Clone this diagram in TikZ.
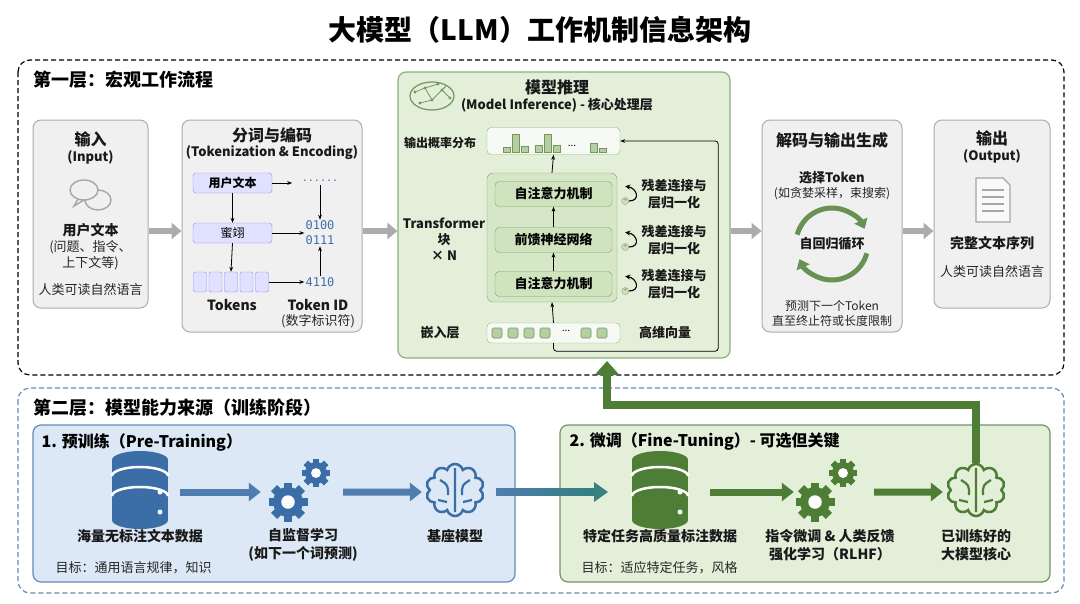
\documentclass[tikz,border=0pt]{standalone}
\usepackage{fontspec}
\setmainfont{Noto Sans CJK SC}
\newfontfamily\mono{DejaVu Sans Mono}
\usetikzlibrary{arrows.meta,shapes.symbols,calc}
\definecolor{gbord}{HTML}{8AB27A}
\definecolor{gfill}{HTML}{E4EFDA}
\definecolor{gin}{HTML}{CFE3BE}
\definecolor{gdark}{HTML}{4E7D35}
\definecolor{bdark}{HTML}{3B6EA6}
\definecolor{bfill}{HTML}{DCE8F5}
\definecolor{tokblue}{HTML}{3D6FB0}
\newcommand{\fs}[1]{\fontsize{#1}{\fpeval{#1*1.25}}\selectfont}
\newcommand{\gearicon}[4]{%
  \foreach \a in {0,45,...,315}{\fill[#4,rotate around={\a:(#1,#2)}] ($(#1,#2)+(-0.28*#3,-1.3*#3)$) rectangle ($(#1,#2)+(0.28*#3,1.3*#3)$);}
  \fill[#4] (#1,#2) circle (#3);
  \fill[white] (#1,#2) circle (0.45*#3);}
\newcommand{\dbicon}[3]{%
  \fill[#3] ($(#1,#2)+(-28,-30)$) rectangle ($(#1,#2)+(28,30)$);
  \fill[#3] ($(#1,#2)+(0,-30)$) ellipse (28 and 9);
  \fill[#3] ($(#1,#2)+(0,30)$) ellipse (28 and 9);
  \draw[white,line width=2.5pt] ($(#1,#2)+(-28,-14)$) arc[start angle=180,end angle=0,x radius=28,y radius=-9];
  \draw[white,line width=2.5pt] ($(#1,#2)+(-28,6)$) arc[start angle=180,end angle=0,x radius=28,y radius=-9];
  \fill[white] ($(#1,#2)+(20,2)$) circle (2.5) ($(#1,#2)+(20,22)$) circle (2.5);}
\tikzset{
  lbox/.style={rounded corners=8pt,draw=gray!65,fill=gray!12,line width=1pt},
  t/.style={font=\fs{12},text=black!85},
  tb/.style={font=\fs{13}\bfseries,text=black!90},
  big/.style={line width=6pt,draw=gray!65,-{Triangle[length=10pt,width=16pt]}},
  sa/.style={-{Stealth[length=5pt]},line width=0.8pt},
  ubox/.style={draw=blue!45,fill=blue!12,rounded corners=3pt,minimum width=79pt,minimum height=20pt,font=\fs{12}\bfseries},
  sq/.style={draw=blue!45,fill=blue!12,rounded corners=2pt,minimum width=13pt,minimum height=20pt},
  gbox/.style={draw=gbord!90!black,fill=gin,rounded corners=4pt,minimum width=117pt,minimum height=25pt,font=\fs{13}\bfseries},
  barsq/.style={draw=gdark!80,fill=gin!80!gdark,line width=0.6pt},
  icon/.style={minimum width=60pt,minimum height=70pt,inner sep=0pt},
  bar/.style={line width=7pt,-{Triangle[length=12pt,width=18pt]}},
}
\begin{document}
\begin{tikzpicture}[x=1pt,y=-1pt]
\useasboundingbox (0,0) rectangle (1080,603);
\fill[white] (0,0) rectangle (1080,603);
\node[font=\fs{28}\bfseries] (title) at (540,30) {大模型（LLM）工作机制信息架构};
% layer 1
\draw[dashed,line width=1.2pt,rounded corners=12pt,dash pattern=on 5pt off 3pt] (18,60) rectangle (1064,375);
\node[anchor=west,font=\fs{18}\bfseries] (l1) at (30,80) {第一层：宏观工作流程};
\coordinate (ya) at (0,231);
% input
\node[lbox,minimum width=115pt,minimum height=188pt] (inp) at (90.5,214) {};
\node[tb,font=\fs{16}\bfseries] (inpt) at (90.5,139) {输入};
\node[tb] (inpe) at (90.5,157) {(Input)};
\draw[gray!70,line width=1.4pt,fill=gray!12] (98,200) ellipse (13 and 10);
\draw[gray!70,line width=1.4pt,fill=gray!12] (84,190) ellipse (14 and 10);
\draw[gray!70,line width=1.4pt] (78,199) -- (74,206) -- (84,200);
\node[tb,font=\fs{14}\bfseries] (ut) at (90.5,230) {用户文本};
\node[t,align=center,font=\fs{13}] (uq) at (90.5,255) {(问题、指令、\\上下文等)};
\node[t,font=\fs{13}] (hr) at (90.5,290) {人类可读自然语言};
% tokenization
\node[lbox,minimum width=180pt,minimum height=212pt] (tok) at (272,226) {};
\node[tb,font=\fs{16}\bfseries] (tokt) at (272,135) {分词与编码};
\node[tb] (toke) at (272,153) {(Tokenization \& Encoding)};
\node[ubox] (u1) at (232.5,183) {用户文本};
\node[ubox,font=\fs{12}] (u2) at (232.5,233) {蜜翊};
\foreach \i/\x in {1/200,2/215.5,3/231,4/246.5,5/262}{\node[sq] (sq\i) at (\x,282) {};}
\node[font=\mono\fs{10},text=tokblue] (d1) at (320,181) {......};
\node[font=\mono\fs{12},text=tokblue,align=center,inner sep=1pt] (b1) at (320,233) {0100\\0111};
\node[font=\mono\fs{12},text=tokblue,inner sep=1pt] (id) at (320,282) {4110};
\draw[sa] (u1.east) -- ++(20,0);
\draw[sa] (u2.east) -- (b1.west);
\draw[sa] (sq5.east) -- (id.west);
\draw[sa] (u1.south) -- (u2.north);
\draw[sa] (u2.south) -- (sq3.north);
\draw[sa] (d1.south) -- (b1.north);
\draw[sa] (id.north) -- (b1.south);
\node[tb,font=\fs{14}\bfseries] (tkl) at (232,305) {Tokens};
\node[tb,font=\fs{14}\bfseries] (tid) at (318,305) {Token ID};
\node[t,font=\fs{13}] (tids) at (318,321) {(数字标识符)};
% inference
\node[rounded corners=8pt,draw=gbord,fill=gfill,line width=1.2pt,minimum width=332pt,minimum height=286pt] (inf) at (564,215) {};
\draw[gdark!80,line width=1.2pt] (432,96) ellipse (22 and 14);
\draw[gdark!80,line width=0.8pt] (415,92)--(425,88)--(432,100)--(442,90)--(450,98) (425,88)--(438,84) (432,100)--(420,103) (442,90)--(446,86);
\foreach \p in {(425,88),(432,100),(442,90),(438,84),(420,103),(450,98),(415,92)}{\fill[gdark!80] \p circle (1.6);}
\node[tb,font=\fs{16}\bfseries] (inft) at (557,87) {模型推理};
\node[tb] (infe) at (557,105) {(Model Inference) - 核心处理层};
\node[rounded corners=4pt,draw=gbord,fill=white!70!gfill,minimum width=133pt,minimum height=27pt] (prob) at (553.5,141) {};
\foreach \x/\h in {503/5,512/18,521/6,535/7,544/18,553/7,590/9,599/4}{\draw[barsq] (\x,152) rectangle ++(7,-\h);}
\node[font=\fs{10}] (pd) at (572,146) {...};
\node[tb,font=\fs{12}\bfseries] (pl) at (440,143) {输出概率分布};
\node[rounded corners=6pt,draw=gbord!90!black,fill=gin!70!gfill,minimum width=130pt,minimum height=129pt] (tblk) at (552,237.5) {};
\node[gbox] (a1) at (553.5,194) {自注意力机制};
\node[gbox] (ff) at (553.5,240) {前馈神经网络};
\node[gbox] (a2) at (553.5,284) {自注意力机制};
\node[tb,font=\fs{13}\bfseries,align=center] (tn) at (444,239) {Transformer\\块\\× N};
\node[rounded corners=4pt,draw=gbord,fill=white!70!gfill,minimum width=133pt,minimum height=20pt] (emb) at (553.5,333) {};
\foreach \x in {497,513,529,545,586,602}{\draw[barsq,rounded corners=1.5pt] (\x-5,328) rectangle (\x+5,338);}
\node[font=\fs{10}] (ed) at (566,331) {...};
\node[tb,font=\fs{13}\bfseries] (el) at (440,333) {嵌入层};
\node[tb,font=\fs{13}\bfseries] (ev) at (665,333) {高维向量};
\draw[sa] (emb.north) -- (tblk.south);
\draw[sa] (a2.north) -- (ff.south);
\draw[sa] (ff.north) -- (a1.south);
\draw[sa] (tblk.north) -- (prob.south);
\draw[sa,rounded corners=3pt] (emb.south) -- ++(0,8) -| ($(prob.east)+(98,0)$) -- (prob.east);
\foreach \b in {a1,ff,a2}{
  \node[circle,draw=gdark!70,fill=gin,inner sep=0pt,minimum size=7pt,font=\fs{6},text=gdark] (\b c) at ($(\b.east)+(13,7)$) {+};
  \draw[-{Stealth[length=5pt,width=5pt]},line width=1.1pt] (\b c.east) .. controls +(12,0) and +(12,2) .. ($(\b c.north)+(0,-11)$);
  \node[tb,font=\fs{13}\bfseries,align=center] (\b l) at ($(\b.east)+(62,0)$) {残差连接与\\层归一化};
}
% decoding
\node[lbox,minimum width=140pt,minimum height=212pt] (dec) at (832,226) {};
\node[tb,font=\fs{16}\bfseries] (dect) at (832,140) {解码与输出生成};
\node[tb] (sel) at (832,178) {选择Token};
\node[t] (sel2) at (832,194) {(如贪婪采样，束搜索)};
\coordinate (cc) at (832,244);
\draw[gdark!85,line width=5pt,-{Triangle[length=9pt,width=14pt]}] ($(cc)+(-165:36)$) arc[start angle=-165,end angle=-25,radius=36];
\draw[gdark!85,line width=5pt,-{Triangle[length=9pt,width=14pt]}] ($(cc)+(15:36)$) arc[start angle=15,end angle=155,radius=36];
\node[tb] (ar) at (cc) {自回归循环};
\node[t,align=center] (pr) at (832,313) {预测下一个Token\\直至终止符或长度限制};
% output
\node[lbox,minimum width=116pt,minimum height=188pt] (out) at (992,214) {};
\node[tb,font=\fs{16}\bfseries] (outt) at (992,138) {输出};
\node[tb] (oute) at (992,156) {(Output)};
\draw[gray!70,line width=1.3pt,fill=gray!5] (976,178) -- (1003,178) -- (1010,185) -- (1010,222) -- (976,222) -- cycle;
\foreach \yy in {190,197,204,211}{\draw[gray!70,line width=1.2pt] (982,\yy) -- (1004,\yy);}
\node[tb,font=\fs{14}\bfseries] (ot) at (992,243) {完整文本序列};
\node[t,font=\fs{13}] (oh) at (992,272) {人类可读自然语言};
% big arrows layer 1
\draw[big] (inp.east |- ya) -- (tok.west |- ya);
\draw[big] (tok.east |- ya) -- (inf.west |- ya);
\draw[big] (inf.east |- ya) -- (dec.west |- ya);
\draw[big] (dec.east |- ya) -- (out.west |- ya);
% layer 2
\draw[dashed,line width=1.2pt,rounded corners=12pt,draw=bdark!80,dash pattern=on 5pt off 3pt] (18,388) rectangle (1064,593);
\node[anchor=west,font=\fs{18}\bfseries] (l2) at (30,408) {第二层：模型能力来源（训练阶段）};
\node[rounded corners=8pt,draw=bdark!80,fill=bfill,line width=1.2pt,minimum width=482pt,minimum height=157pt] (pre) at (274,503.5) {};
\node[anchor=west,font=\fs{16}\bfseries] (pret) at (38,442) {1. 预训练（Pre-Training）};
\node[rounded corners=8pt,draw=gdark!80,fill=gfill,line width=1.2pt,minimum width=490pt,minimum height=157pt] (fin) at (805,503.5) {};
\node[anchor=west,font=\fs{16}\bfseries] (fint) at (566,442) {2. 微调（Fine-Tuning）- 可选但关键};
% pretrain icons
\node[icon] (db1) at (140,490) {};
\dbicon{140}{490}{bdark}
\node[icon] (g1) at (303,490) {};
\gearicon{288}{502}{15}{bdark}
\gearicon{316}{473}{11}{bdark}
\node[cloud,cloud puffs=10,draw=bdark,line width=2.5pt,minimum width=58pt,minimum height=52pt,aspect=1.1] (br1) at (455,490) {};
\draw[bdark,line width=2.2pt] (455,468)--(455,512) (440,480) .. controls (448,485) .. (448,495) (470,480) .. controls (462,485) .. (462,495) (438,500)--(447,502) (472,500)--(463,502);
\node[tb,font=\fs{14}\bfseries] (dbl) at (140,536) {海量无标注文本数据};
\node[t,anchor=west,font=\fs{13}] (goal1) at (52,568) {目标：通用语言规律，知识};
\node[tb,font=\fs{14}\bfseries,align=center] (g1l) at (303,545) {自监督学习\\(如下一个词预测)};
\node[tb,font=\fs{14}\bfseries] (br1l) at (455,536) {基座模型};
\draw[bar,draw=bdark!90] (db1.east) ++(10,2) -- ($(g1.west)+(-12,2)$);
\draw[bar,draw=bdark!90] ($(g1.east)+(10,2)$) -- ($(br1.west)+(-6,2)$);
\shade[left color=bdark!90,right color=teal!60!gray] (496,488.5) rectangle (595,495.5);
\fill[teal!55!gray] (594,482) -- (608,492) -- (594,502) -- cycle;
% finetune icons
\node[icon] (db2) at (660,490) {};
\dbicon{660}{490}{gdark}
\node[icon] (g2) at (830,490) {};
\gearicon{815}{502}{15}{gdark}
\gearicon{843}{473}{11}{gdark}
\node[cloud,cloud puffs=10,draw=gdark,line width=2.5pt,minimum width=58pt,minimum height=52pt,aspect=1.1] (br2) at (976,490) {};
\draw[gdark,line width=2.2pt] (976,468)--(976,512) (961,480) .. controls (969,485) .. (969,495) (991,480) .. controls (983,485) .. (983,495) (959,500)--(968,502) (993,500)--(984,502);
\node[tb,font=\fs{14}\bfseries] (db2l) at (660,536) {特定任务高质量标注数据};
\node[t,anchor=west,font=\fs{13}] (goal2) at (578,568) {目标：适应特定任务，风格};
\node[tb,font=\fs{14}\bfseries,align=center] (g2l) at (830,545) {指令微调 \& 人类反馈\\强化学习（RLHF）};
\node[tb,font=\fs{14}\bfseries,align=center] (br2l) at (976,545) {已训练好的\\大模型核心};
\draw[bar,draw=gdark] ($(db2.east)+(20,2)$) -- ($(g2.west)+(-6,2)$);
\draw[bar,draw=gdark] ($(g2.east)+(14,2)$) -- ($(br2.west)+(-6,2)$);
\coordinate (tgt) at (607,361);
\draw[line width=8pt,draw=gdark,-{Triangle[length=14pt,width=24pt]}] (br2.north) |- (607,405) -- (tgt);
\end{tikzpicture}
\end{document}
